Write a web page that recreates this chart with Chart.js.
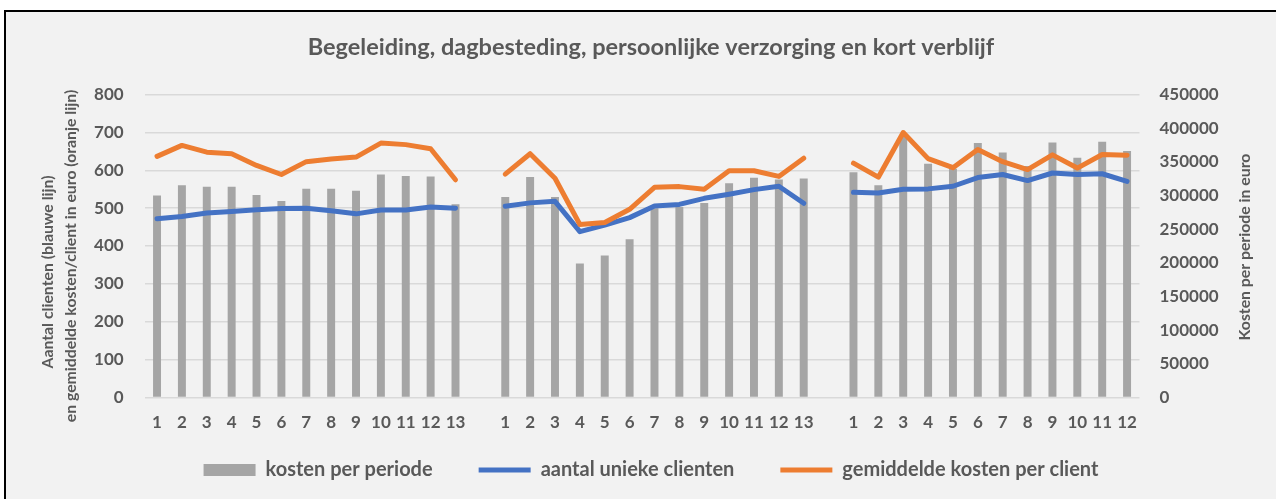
<!DOCTYPE html>
<html><head><meta charset="utf-8">
<script src="https://cdn.jsdelivr.net/npm/chart.js@4.4.1/dist/chart.umd.min.js"></script>
<style>
html,body{margin:0;padding:0;background:#fff;overflow:hidden;width:1276px;height:499px;}
#frame{position:absolute;left:4px;top:10px;width:1400px;height:600px;border:2px solid #000;background:#f2f2f2;}
#wrap{position:absolute;left:0;top:0;width:1276px;height:499px;}
</style></head><body>
<div id="frame"></div>
<div id="wrap"><canvas id="c" width="1276" height="499"></canvas></div>
<script>
// ---- data ----
const periods1 = ['1','2','3','4','5','6','7','8','9','10','11','12','13'];
const periods2 = ['1','2','3','4','5','6','7','8','9','10','11','12','13'];
const periods3 = ['1','2','3','4','5','6','7','8','9','10','11','12'];

const kosten1 = [300000, 315500, 313000, 313000, 301000, 292000, 310000, 310000, 307000, 331500, 329000, 328500, 287000];
const kosten2 = [298000, 327500, 298000, 199000, 211000, 235000, 281000, 283000, 289000, 318500, 326500, 324000, 325500];
const kosten3 = [334600, 315200, 387000, 347200, 340000, 378100, 364100, 344000, 379100, 356200, 380100, 366100];

const clienten1 = [472, 478, 487, 491, 496, 499, 500, 493, 485, 495, 495, 503, 500];
const clienten2 = [505, 514, 518, 438, 455, 475, 506, 510, 526, 537, 549, 558, 513];
const clienten3 = [542, 540, 550, 551, 558, 581, 589, 573, 593, 589, 591, 571];

const gemiddeld1 = [637, 666, 648, 644, 613, 589, 623, 630, 635, 672, 668, 657, 575];
const gemiddeld2 = [590, 644, 579, 457, 462, 497, 555, 557, 550, 599, 599, 584, 632];
const gemiddeld3 = [619, 582, 700, 631, 607, 655, 623, 602, 641, 606, 642, 640];

const leftTicks = [0, 100, 200, 300, 400, 500, 600, 700, 800];
const rightTicks = [0, 50000, 100000, 150000, 200000, 250000, 300000, 350000, 400000, 450000];

const seriesNames = ['kosten per periode', 'aantal unieke clienten', 'gemiddelde kosten per client'];
const chartTitle = 'Begeleiding, dagbesteding, persoonlijke verzorging en kort verblijf';
const leftTitle1 = 'Aantal clienten (blauwe lijn)';
const leftTitle2 = 'en gemiddelde kosten/client in euro (oranje lijn)';
const rightTitle = 'Kosten per periode in euro';

// ---- build ----
const labels = [...periods1, '', ...periods2, '', ...periods3];
const joinGroups = (a, b, c) => [...a, null, ...b, null, ...c];

const FONT = 'Lato';
const GREY_TXT = '#595959';
const PAD_L = 26, PAD_R = 0, PAD_B = 9;
const PLOT_LEFT = 144.6, PLOT_RIGHT = 1139.5;

const axisTitlePlugin = {
  id: 'axisTitles',
  afterDraw(chart) {
    const ctx = chart.ctx;
    const ca = chart.chartArea;
    const mid = (ca.top + ca.bottom) / 2;
    ctx.save();
    ctx.fillStyle = GREY_TXT;
    ctx.font = 'bold 15.8px ' + FONT;
    ctx.textAlign = 'center';
    ctx.textBaseline = 'middle';
    const items = [[leftTitle1, 48, mid + 26], [leftTitle2, 71, mid + 10], [rightTitle, 1245, mid + 1]];
    items.forEach(([t, x, y]) => {
      ctx.save();
      ctx.translate(x, y);
      ctx.rotate(-Math.PI / 2);
      ctx.fillText(t, 0, 0);
      ctx.restore();
    });
    ctx.restore();
  }
};

const tickFont = { family: FONT, size: 17, weight: 'bold' };

new Chart(document.getElementById('c'), {
  type: 'bar',
  data: {
    labels: labels,
    datasets: [
      {
        type: 'bar', label: seriesNames[0], data: joinGroups(kosten1, kosten2, kosten3),
        yAxisID: 'y1', backgroundColor: '#a5a5a5', borderWidth: 0,
        barPercentage: 0.32, categoryPercentage: 1, order: 3, pointStyle: 'rect'
      },
      {
        type: 'line', label: seriesNames[1], data: joinGroups(clienten1, clienten2, clienten3),
        yAxisID: 'y', borderColor: '#4472c4', backgroundColor: '#4472c4', borderWidth: 5,
        pointRadius: 0, tension: 0, spanGaps: false, borderJoinStyle: 'round', borderCapStyle: 'round',
        order: 2, pointStyle: 'line'
      },
      {
        type: 'line', label: seriesNames[2], data: joinGroups(gemiddeld1, gemiddeld2, gemiddeld3),
        yAxisID: 'y', borderColor: '#ed7d31', backgroundColor: '#ed7d31', borderWidth: 5,
        pointRadius: 0, tension: 0, spanGaps: false, borderJoinStyle: 'round', borderCapStyle: 'round',
        order: 1, pointStyle: 'line'
      }
    ]
  },
  options: {
    responsive: false,
    animation: false,
    devicePixelRatio: 1,
    layout: { padding: { left: PAD_L, right: PAD_R, top: 0, bottom: PAD_B } },
    plugins: {
      tooltip: { enabled: false },
      title: {
        display: true, text: chartTitle, color: GREY_TXT,
        font: { family: FONT, size: 23.5, weight: 'bold' },
        padding: { top: 33.5, bottom: 33 }
      },
      legend: {
        position: 'bottom',
        labels: {
          usePointStyle: true, pointStyleWidth: 52, boxHeight: 12,
          padding: 46, color: GREY_TXT,
          font: { family: FONT, size: 20, weight: 'bold' },
          sort: (a, b) => a.datasetIndex - b.datasetIndex
        }
      }
    },
    scales: {
      x: {
        offset: true,
        grid: { display: false, drawTicks: false },
        border: { display: false },
        ticks: { autoSkip: false, maxRotation: 0, minRotation: 0, color: GREY_TXT, font: tickFont, mirror: true, padding: -35.7 },
        afterFit(s) { s.height = 16.7; }
      },
      y: {
        position: 'left', min: leftTicks[0], max: leftTicks[leftTicks.length - 1],
        grid: { color: '#d9d9d9', lineWidth: 1.5, drawTicks: false },
        border: { display: false },
        ticks: { stepSize: leftTicks[1] - leftTicks[0], color: GREY_TXT, font: tickFont, padding: 21, callback: v => String(v) },
        afterFit(s) { s.width = PLOT_LEFT - PAD_L; }
      },
      y1: {
        position: 'right', min: rightTicks[0], max: rightTicks[rightTicks.length - 1],
        grid: { drawOnChartArea: false, drawTicks: false },
        border: { display: false },
        ticks: { stepSize: rightTicks[1] - rightTicks[0], color: GREY_TXT, font: tickFont, padding: 20, callback: v => String(v) },
        afterFit(s) { s.width = 1276 - PLOT_RIGHT - PAD_R; }
      }
    }
  },
  plugins: [axisTitlePlugin]
});
</script>
</body></html>
